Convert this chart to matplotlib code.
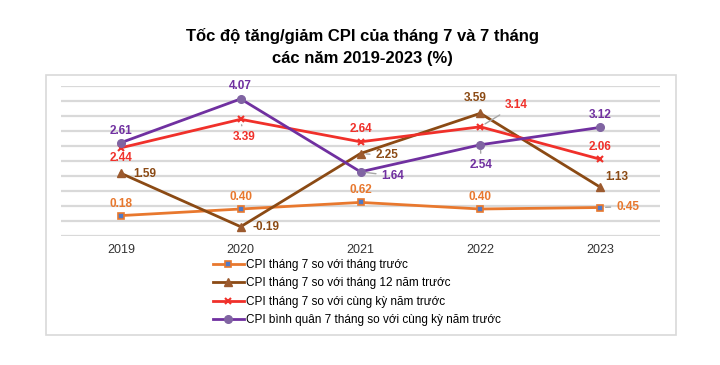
import matplotlib.pyplot as plt
from matplotlib.patches import Rectangle

years = ['2019', '2020', '2021', '2022', '2023']
cpi_thang_truoc = [0.18, 0.40, 0.62, 0.40, 0.45]
cpi_thang_12 = [1.59, -0.19, 2.25, 3.59, 1.13]
cpi_cung_ky = [2.44, 3.39, 2.64, 3.14, 2.06]
cpi_binh_quan = [2.61, 4.07, 1.64, 2.54, 3.12]

labels = ['CPI tháng 7 so với tháng trước',
          'CPI tháng 7 so với tháng 12 năm trước',
          'CPI tháng 7 so với cùng kỳ năm trước',
          'CPI bình quân 7 tháng so với cùng kỳ năm trước']

plt.rcParams['font.family'] = ['Liberation Sans', 'DejaVu Sans']

fig = plt.figure(figsize=(7.2, 3.65), dpi=100)
W, H = 720, 365
ax = fig.add_axes([61 / W, 1 - 236 / H, 599 / W, 150 / H])

x = range(len(years))
c_or, c_br, c_rd, c_pu = '#E8782E', '#8B4A14', '#F0302A', '#7030A0'

ax.plot(x, cpi_thang_truoc, color=c_or, lw=2, marker='s', ms=5,
        mfc='#4F7AC7', mec=c_or, mew=1.2, label=labels[0], zorder=3)
ax.plot(x, cpi_thang_12, color=c_br, lw=2, marker='^', ms=5.5,
        mfc='#9C5A2E', mec='#9C5A2E', label=labels[1], zorder=3)
ax.plot(x, cpi_cung_ky, color=c_rd, lw=2, marker='x', ms=5,
        mec=c_rd, mew=1.5, label=labels[2], zorder=3)
ax.plot(x, cpi_binh_quan, color=c_pu, lw=2, marker='o', ms=5.5,
        mfc='#8064A2', mec='#8064A2', label=labels[3], zorder=3)

ax.set_xlim(-0.5, 4.5)
ax.set_ylim(-0.5, 4.5)
ax.set_yticks([i * 0.5 - 0.5 for i in range(11)])
ax.set_yticklabels([])
ax.grid(axis='y', color='#D9D9D9', lw=1.6)
ax.set_axisbelow(True)
for s in ax.spines.values():
    s.set_visible(False)
ax.tick_params(length=0, pad=6)
ax.tick_params(axis='x', labelsize=9, labelcolor='#333333')
ax.set_xticks(list(x))
ax.set_xticklabels(years)


def lab(i, v, txt, color, dx, dy, ha='center', leader=False):
    kw = {}
    if leader:
        kw['arrowprops'] = dict(arrowstyle='-', color='#A6A6A6', lw=1,
                                shrinkA=2, shrinkB=4)
    ax.annotate(txt, (i, v), xytext=(dx, dy), textcoords='offset pixels',
                ha=ha, va='center', color=color, fontsize=8.5,
                fontweight='bold', **kw)


# orange
for i, v in enumerate(cpi_thang_truoc[:4]):
    lab(i, v, f'{v:.2f}', c_or, 0, 12)
lab(4, 0.45, '0.45', c_or, 16, 1, ha='left', leader=True)
# brown
lab(0, 1.59, '1.59', c_br, 12, -1, ha='left')
lab(1, -0.19, '-0.19', c_br, 12, 0, ha='left')
lab(2, 2.25, '2.25', c_br, 15, -2, ha='left', leader=True)
lab(3, 3.59, '3.59', c_br, -5, 15)
lab(4, 1.13, '1.13', c_br, 17, 10)
# red
lab(0, 2.44, '2.44', c_rd, 0, -10)
lab(1, 3.39, '3.39', c_rd, 3, -18, leader=True)
lab(2, 2.64, '2.64', c_rd, 0, 13)
lab(3, 3.14, '3.14', c_rd, 36, 22, leader=True)
lab(4, 2.06, '2.06', c_rd, 0, 12)
# purple
lab(0, 2.61, '2.61', c_pu, 0, 12)
lab(1, 4.07, '4.07', c_pu, 0, 13)
lab(2, 1.64, '1.64', c_pu, 21, -4, ha='left', leader=True)
lab(3, 2.54, '2.54', c_pu, 1, -20, leader=True)
lab(4, 3.12, '3.12', c_pu, 0, 12)

fig.legend(loc='upper left', bbox_to_anchor=(213 / W, 1 - 259 / H),
           frameon=False, fontsize=8.5, handlelength=2.6, handletextpad=0.2,
           labelspacing=0.55, borderaxespad=0, borderpad=0)

fig.patches.append(Rectangle((46 / W, 1 - 335 / H), 630 / W, 260 / H,
                             transform=fig.transFigure, fill=False,
                             edgecolor='#D9D9D9', lw=1.2))

fig.text(0.503, 1 - 36 / H, 'Tốc độ tăng/giảm CPI của tháng 7 và 7 tháng',
         ha='center', va='center', fontsize=12, fontweight='bold')
fig.text(0.503, 1 - 58 / H, 'các năm 2019-2023 (%)',
         ha='center', va='center', fontsize=12, fontweight='bold')

fig.savefig('out.png', dpi=100)
